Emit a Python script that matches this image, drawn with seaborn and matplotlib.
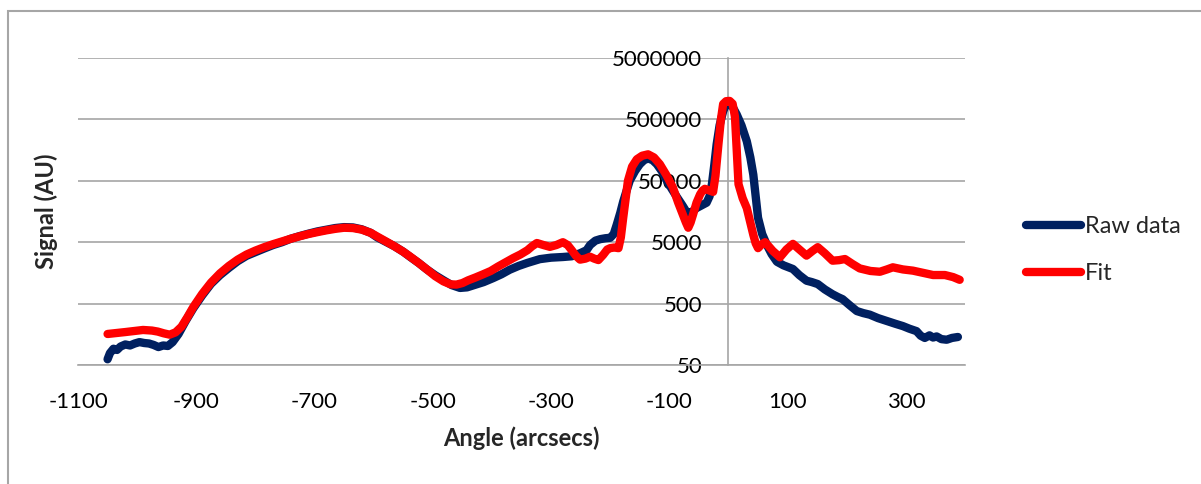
import numpy as np
import pandas as pd
import seaborn as sns
import matplotlib.pyplot as plt
from matplotlib.patches import Rectangle
from matplotlib.ticker import FixedLocator, FixedFormatter, NullLocator

# Raw data
raw_angle = [-1050, -1046, -1040, -1034, -1028, -1020, -1012, -1004, -996, -988, -980, -972,
             -964, -956, -948, -940, -930, -918, -905, -890, -875, -860, -845, -830, -815,
             -800, -785, -770, -755, -740, -725, -710, -695, -680, -665, -650, -635, -620,
             -605, -594, -580, -565, -550, -538, -524, -510, -496, -482, -468, -454, -442,
             -430, -414, -398, -384, -370, -355, -340, -319, -300, -280, -265, -251, -240,
             -234, -225, -217, -208, -200, -194, -189, -183, -178, -172, -167, -158, -150,
             -143, -136, -128, -121, -112, -104, -96, -87, -78, -70, -62, -54, -45, -37,
             -32, -28, -24, -20, -15, -9, -4, 0, 7, 14, 22, 31, 37, 42, 46, 50, 57, 65,
             73, 82, 93, 109, 120, 132, 141, 151, 163, 176, 185, 193, 205, 217, 228, 239,
             253, 268, 282, 295, 306, 318, 325, 332, 340, 346, 352, 360, 369, 378, 388]
raw_signal = [62, 78, 92, 88, 100, 108, 104, 112, 118, 114, 112, 106,
              98, 104, 102, 118, 160, 260, 420, 680, 1050, 1450, 1900, 2450, 3000,
              3450, 3950, 4500, 5000, 5700, 6300, 6900, 7500, 8000, 8500, 8800, 8700, 8100,
              7100, 6000, 5100, 4300, 3500, 2870, 2300, 1800, 1450, 1200, 1000, 900, 920,
              1000, 1120, 1300, 1500, 1780, 2050, 2300, 2650, 2800, 2870, 2950, 3300, 3700,
              4500, 5300, 5600, 5800, 5900, 6800, 9600, 15000, 23000, 35000, 50000, 72000, 93000,
              108000, 116000, 108000, 93000, 70000, 50000, 37000, 27000, 20000, 15000, 15500, 18000, 20000, 22000,
              28000, 44000, 90000, 196000, 400000, 680000, 880000, 950000, 800000, 600000, 400000, 220000, 120000,
              63000, 28000, 12500, 6800, 4500,
              3200, 2400, 2100, 1830, 1450, 1180, 1120, 1040, 850, 710, 640, 590, 470, 378, 350, 330,
              290, 260, 235, 215, 195, 178, 150, 138, 152, 140, 146, 132, 129, 138, 143]

# Fit
fit_angle = [-1050, -1020, -990, -975, -965, -955, -945, -935, -925, -915, -905, -890,
             -875, -860, -845, -830, -815, -800, -785, -770, -755, -740, -725, -710,
             -695, -680, -665, -650, -635, -620, -605, -594, -580, -565, -550, -538,
             -524, -510, -496, -482, -470, -460, -450, -440, -428, -415, -402, -390,
             -377, -364, -352, -340, -332, -324, -313, -302, -291, -280, -272, -265,
             -258, -251, -242, -234, -227, -220, -212, -205, -200, -193, -186, -182,
             -178, -174, -170, -163, -155, -146, -136, -126, -116, -105, -94, -85,
             -77, -72, -68, -64, -60, -54, -48, -44, -40, -33, -26, -22, -17, -13,
             -9, -4, 2, 7, 11, 14, 17, 24, 31, 37, 42, 46, 50, 56, 62, 75, 87, 98,
             109, 120, 132, 142, 151, 163, 176, 187, 197, 210, 222, 240, 256, 268,
             278, 295, 312, 330, 346, 366, 380, 391]
fit_signal = [160, 172, 186, 182, 175, 164, 156, 170, 210, 300, 440, 720,
              1100, 1550, 2050, 2600, 3150, 3650, 4150, 4650, 5150, 5700, 6250, 6800,
              7300, 7800, 8250, 8600, 8500, 8000, 7100, 6200, 5200, 4300, 3500, 2900,
              2300, 1800, 1400, 1150, 1030, 1020, 1080, 1200, 1330, 1500, 1700, 2000,
              2350, 2760, 3150, 3700, 4300, 4850, 4500, 4200, 4500, 5000, 4500, 3700,
              3000, 2600, 2700, 2900, 2700, 2560, 3100, 3800, 4000, 4100, 4000, 6000,
              12500, 25000, 50000, 85000, 112000, 128000, 135000, 120000, 93000, 62000, 39000, 22000,
              14000, 10500, 8600, 10500, 14000, 22000, 30000, 34500, 37000, 35000, 33000, 60000, 196000, 480000,
              890000, 990000, 1000000, 900000, 550000, 150000, 44000, 26000, 18000, 10500, 6600, 4800, 4000,
              4600, 5000, 3600, 2840, 3800,
              4700, 3800, 3020, 3600, 4150, 3300, 2500, 2550, 2660, 2200, 1870, 1700, 1650, 1800,
              1950, 1800, 1720, 1580, 1460, 1460, 1350, 1220]

ytick_vals = [50, 500, 5000, 50000, 500000, 5000000]
xtick_vals = [-1100, -900, -700, -500, -300, -100, 100, 300]

raw_df = pd.DataFrame({"Angle": raw_angle, "Signal": raw_signal})
fit_df = pd.DataFrame({"Angle": fit_angle, "Signal": fit_signal})

sns.set_style("white")
plt.rcParams['font.family'] = ['Lato', 'DejaVu Sans']

fig = plt.figure(figsize=(12.01, 4.84), dpi=100)
ax = fig.add_axes([78 / 1201, 1 - 365 / 484, 887 / 1201, 307 / 484])

navy = "#002060"
red = "#ff0000"
sns.lineplot(data=raw_df, x="Angle", y="Signal", sort=False, color=navy, linewidth=6,
             solid_capstyle="round", solid_joinstyle="round", label="Raw data", ax=ax, zorder=3)
sns.lineplot(data=fit_df, x="Angle", y="Signal", sort=False, color=red, linewidth=6,
             solid_capstyle="round", solid_joinstyle="round", label="Fit", ax=ax, zorder=4)

ax.set_yscale("log")
ax.set_xlim(-1100, 400)
ax.set_ylim(50, 5000000)

ax.yaxis.set_major_locator(FixedLocator(ytick_vals))
ax.yaxis.set_major_formatter(FixedFormatter([str(v) for v in ytick_vals]))
ax.yaxis.set_minor_locator(NullLocator())
ax.xaxis.set_major_locator(FixedLocator(xtick_vals))
ax.xaxis.set_major_formatter(FixedFormatter([str(v) for v in xtick_vals]))

ax.grid(axis="y", color="#a6a6a6", linewidth=1.2)
ax.grid(axis="x", visible=False)
for s in ["top", "right"]:
    ax.spines[s].set_visible(False)
ax.spines["left"].set_position(("data", 0))
ax.spines["left"].set_color("#a6a6a6")
ax.spines["bottom"].set_color("#a6a6a6")
ax.spines["left"].set_linewidth(1.2)
ax.spines["bottom"].set_linewidth(1.2)
ax.spines["left"].set_zorder(1)
ax.tick_params(axis="x", direction="out", length=5.8, width=1.2, color="#a6a6a6",
               pad=14, labelsize=16, labelcolor="black")
ax.tick_params(axis="y", length=0, pad=19, labelsize=16, labelcolor="black")

ax.set_xlabel("Angle (arcsecs)", fontsize=17, fontweight="bold")
ax.set_ylabel("Signal (AU)", fontsize=17, fontweight="bold")
ax.xaxis.set_label_coords(0.5, -0.200)
ax.yaxis.set_label_coords(-0.0225, 0.5)

ax.get_legend().remove()
handles, labels = ax.get_legend_handles_labels()
fig.legend(handles, labels, loc="center left", bbox_to_anchor=(1005 / 1201, 1 - 250 / 484),
           frameon=False, fontsize=17, handlelength=2.3, handletextpad=0.2, labelspacing=1.1)

# chart area border
fig.patches.append(Rectangle((8 / 1201, -0.1), 1.2, 1 - 11 / 484 + 0.1,
                             transform=fig.transFigure, fill=False,
                             edgecolor="#a6a6a6", linewidth=1.5))

fig.savefig("out.png", dpi=100)
